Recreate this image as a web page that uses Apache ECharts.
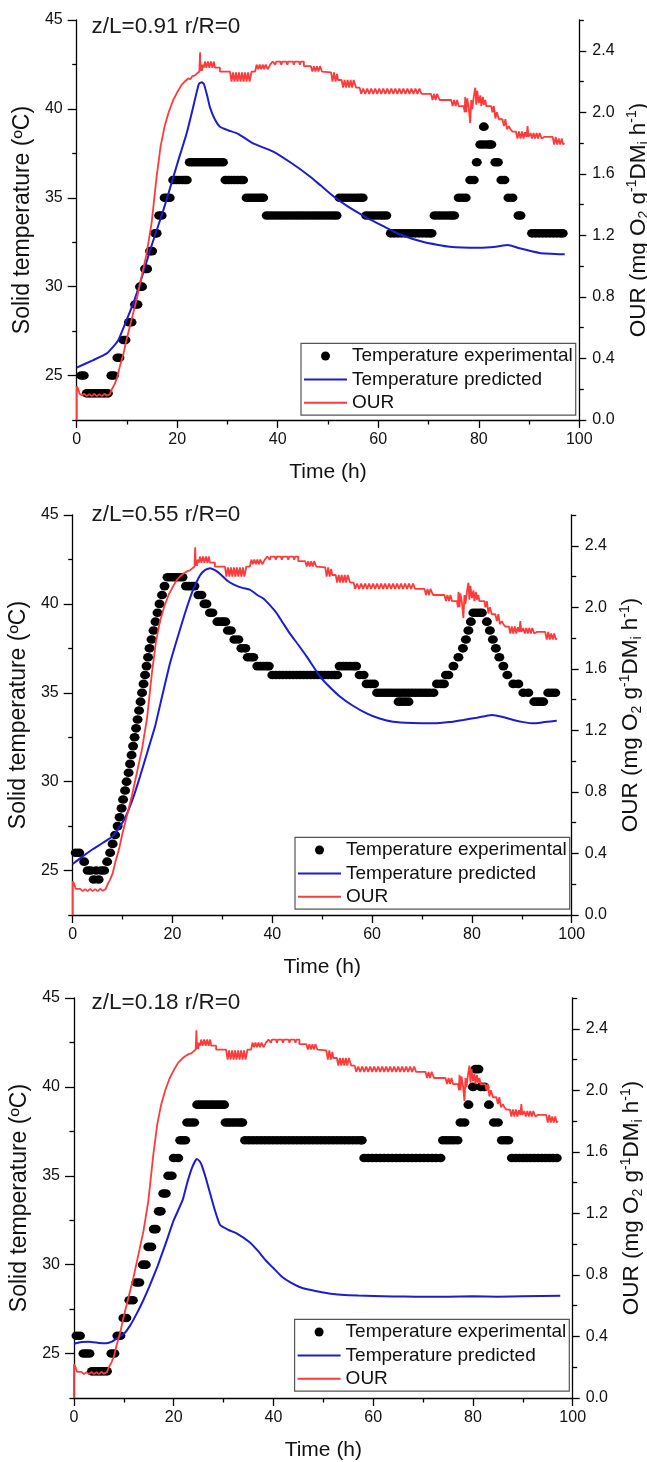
<!DOCTYPE html>
<html><head><meta charset="utf-8">
<script src="https://cdn.jsdelivr.net/npm/echarts@6/dist/echarts.min.js"></script>
<style>html,body{margin:0;padding:0;background:#fff}#c{width:647px;height:1462px}</style>
</head><body><div id="c"></div>
<script>
const titles = ['z/L=0.91 r/R=0', 'z/L=0.55 r/R=0', 'z/L=0.18 r/R=0'];
const seriesNames = ['Temperature experimental', 'Temperature predicted', 'OUR'];
const tempTicks = [25, 30, 35, 40, 45];
const tempMinorTicks = [22.5, 27.5, 32.5, 37.5, 42.5];
const ourTicks = [0, 0.4, 0.8, 1.2, 1.6, 2.0, 2.4];
const ourMinorTicks = [0.2, 0.6, 1.0, 1.4, 1.8, 2.2, 2.6];

// Temperature experimental, z/L=0.91
const exp1 = [
[0.9,25],[1.4,25],[2,24],[2.6,24],[3.2,24],[3.8,24],[4.4,24],[5,24],[5.6,24],[6.2,24],[6.9,25],[7.4,25],[8.1,26],[8.5,26],[9.3,27],[9.7,27],[10.4,28],[10.9,28],[11.6,29],[12.1,29],[12.6,30],[13,30],[13.6,31],[14,31],[14.6,32],[15,32],[15.6,33],[15.9,33],[16.4,34],[16.9,34],[17.5,35],[18,35],[18.5,35],
[19.2,36],[19.8,36],[20.4,36],[21,36],[21.5,36],[21.9,36],
[22.5,37],[23.1,37],[23.7,37],[24.3,37],[24.9,37],[25.5,37],[26.1,37],[26.7,37],[27.3,37],[27.9,37],[28.5,37],[29.1,37],
[29.6,36],[30.2,36],[30.8,36],[31.4,36],[32,36],[32.6,36],[33.1,36],
[33.8,35],[34.4,35],[35,35],[35.6,35],[36.2,35],[36.7,35],[37.1,35],
[37.8,34],[38.5,34],[39.2,34],[39.9,34],[40.6,34],[41.3,34],[42,34],[42.7,34],[43.4,34],[44.1,34],[44.8,34],[45.5,34],[46.2,34],[46.9,34],[47.6,34],[48.3,34],[49,34],[49.7,34],[50.4,34],[51.1,34],[51.7,34],
[52.3,35],[53,35],[53.7,35],[54.4,35],[55.1,35],[55.8,35],[56.4,35],[56.9,35],
[57.6,34],[58.3,34],[59,34],[59.7,34],[60.4,34],[61,34],[61.6,34],
[62.5,33],[63.2,33],[63.9,33],[64.6,33],[65.3,33],[66,33],[66.7,33],[67.4,33],[68.1,33],[68.8,33],[69.5,33],[70.1,33],[70.6,33],
[71.2,34],[71.9,34],[72.6,34],[73.3,34],[74,34],[74.6,34],[75.1,34],
[76,35],[76.7,35],[77.4,35],
[78.3,36],[79,36],
[79.6,37],
[80.3,38],[80.9,38],[81,39],[81.6,38],[82.2,38],[82.5,38],
[83.3,37],[83.8,37],
[84.5,36],[85.1,36],
[85.9,35],[86.7,35],
[87.9,34],[88.3,34],
[90.6,33],[91.3,33],[92,33],[92.7,33],[93.4,33],[94.1,33],[94.8,33],[95.5,33],[96.2,33],[96.7,33]
];
// Temperature experimental, z/L=0.55
const exp2 = [
[0.6,26],[1.3,26],[2.3,25.5],[3,25],[3.6,25],[4.2,24.5],[4.7,25],[5.2,24.5],[5.7,25],[6.3,25],[6.9,25.5],[7.5,26],[8,26.5],[8.5,27],[9,27.5],[9.4,28],[9.8,28.5],[10.1,29],[10.5,29.5],[10.8,30],[11.2,30.5],[11.5,31],[11.8,31.5],[12.1,32],[12.4,32.5],[12.7,33],[13,33.5],[13.3,34],[13.6,34.5],[13.9,35],[14.2,35.5],[14.5,36],[14.8,36.5],[15.1,37],[15.4,37.5],[15.8,38],[16.2,38.5],[16.6,39],[17,39.5],[17.4,40],[17.9,40.5],[18.4,41],
[19,41.5],[19.6,41.5],[20.2,41.5],[20.8,41.5],[21.4,41.5],[22,41.5],
[22.7,41],[23.3,41],[23.9,41],[24.4,41],[25.2,40.5],[25.8,40.5],[26.4,40],[26.8,40],[27.5,39.5],[28,39.5],
[29,39],[29.6,39],[30.1,39],[30.6,39],[31.1,38.5],[31.7,38.5],[32.4,38],[33.2,38],[33.8,37.5],[34.6,37.5],[35.1,37],[35.7,37],[36.2,37],
[37,36.5],[37.6,36.5],[38.2,36.5],[38.8,36.5],[39.3,36.5],
[40,36],[40.7,36],[41.4,36],[42.1,36],[42.8,36],[43.5,36],[44.2,36],[44.9,36],[45.6,36],[46.3,36],[47,36],[47.7,36],[48.4,36],[49.1,36],[49.8,36],[50.5,36],[51.2,36],[51.9,36],[52.5,36],[53,36],
[53.5,36.5],[54.2,36.5],[54.9,36.5],[55.6,36.5],[56.3,36.5],[56.8,36.5],
[57.5,36],[58.3,36],[58.9,35.5],[59.7,35.5],[60.4,35.5],
[61,35],[61.7,35],[62.4,35],[63.1,35],[63.8,35],[64.5,35],[65.2,35],[65.9,35],[66.6,35],[67.3,35],[68,35],[68.7,35],[69.4,35],[70.1,35],[70.8,35],[71.5,35],[72.3,35],
[65.3,34.5],[65.9,34.5],[66.6,34.5],[67.3,34.5],
[73,35.5],[73.8,35.5],[74.4,35.5],[74.8,36],[75.3,36],[76.3,36.5],[77.3,37],[78.2,37.5],[78.8,38],[79.3,38.5],[79.8,39],
[80.3,39.5],[80.9,39.5],[81.5,39.5],[82,39.5],
[83,39],[83.6,38.5],[84.2,38],[84.8,37.5],[85.5,37],[86.3,36.5],[87.1,36],[88.3,35.5],[89.3,35.5],[90.3,35],[91.3,35],
[92.5,34.5],[93.1,34.5],[93.7,34.5],[94.3,34.5],[95.3,35],[96,35],[96.7,35]
];
// Temperature experimental, z/L=0.18
const exp3 = [
[0.5,26],[1.2,26],[1.9,25],[2.5,25],[3.1,25],[3.6,24],[4.2,24],[4.8,24],[5.4,24],[6,24],[6.6,24],[7.5,25],[8.1,25],[8.7,26],[9.3,26],[9.9,27],[10.5,27],[11.1,28],[11.8,28],[12.5,29],[13.1,29],[13.8,30],[14.4,30],[14.9,31],[15.5,31],[16,32],[16.4,32],[17,33],[17.4,33],[17.9,34],[18.4,34],[18.9,35],[19.6,35],[20,36],[20.9,36],[21.3,37],[21.8,37],[22.3,37],[22.7,38],[23.4,38],[24.1,38],
[24.7,39],[25.3,39],[25.9,39],[26.5,39],[27.1,39],[27.7,39],[28.3,39],[28.9,39],[29.5,39],[30.1,39],
[30.4,38],[31,38],[31.6,38],[32.2,38],[32.8,38],[33.4,38],[33.75,38],
[34.3,37],[35.1,37],[35.9,37],[36.7,37],[37.5,37],[38.3,37],[39.1,37],[39.9,37],[40.7,37],[41.5,37],[42.3,37],[43.1,37],[43.9,37],[44.7,37],[45.5,37],[46.3,37],[47.1,37],[47.9,37],[48.7,37],[49.5,37],[50.3,37],[51.1,37],[51.9,37],[52.7,37],[53.5,37],[54.3,37],[55.1,37],[55.9,37],[56.7,37],[57.5,37],[57.7,37],
[58.2,36],[59,36],[59.8,36],[60.6,36],[61.4,36],[62.2,36],[63,36],[63.8,36],[64.6,36],[65.4,36],[66.2,36],[67,36],[67.8,36],[68.6,36],[69.4,36],[70.2,36],[71,36],[71.8,36],[72.6,36],[73.5,36],
[74,37],[74.7,37],[75.4,37],[76.1,37],[76.9,37],
[77.5,38],[78.3,38],[79.1,39],[80,40],[80.5,41],[81.1,41],[81.6,40],[82.3,40],[83.2,39],[84.2,38],[85,38],
[85.8,37],[86.5,37],[87.1,37],
[87.8,36],[88.55,36],[89.3,36],[90.05,36],[90.8,36],[91.55,36],[92.3,36],[93.05,36],[93.8,36],[94.55,36],[95.3,36],[96.05,36],[96.8,36]
];

// Temperature predicted
const pred1 = [
[0,25.45],[3.3,25.87],[6,26.25],[7.5,26.7],[8.3,27.0],[9.9,28.1],[11.25,29.06],[12.6,30.2],[13.9,31.4],[15,32.4],[16.9,34.0],[18,35.0],[20,36.9],[21.85,38.6],[23,39.9],[24.3,41.4],[24.9,41.5],[25.3,41.4],[26,40.7],[26.5,40.1],[27.5,39.4],[28.5,39.0],[30.1,38.8],[32.1,38.6],[35.1,38.06],[39.1,37.6],[43,36.9],[46.4,36.2],[48.5,35.7],[51,35.1],[54,34.5],[57.6,33.9],[61,33.4],[64.2,32.95],[69.2,32.5],[74.2,32.25],[80.1,32.19],[83.4,32.25],[85.8,32.35],[88.1,32.16],[92.1,31.9],[97.1,31.82]
];
const pred2 = [
[0,25.37],[2,25.8],[4,26.2],[6,26.55],[7.9,26.9],[9,27.3],[10.4,27.9],[12,29.0],[13.5,30.3],[15,31.7],[16.5,33.1],[18,34.9],[19.5,36.66],[21,38.1],[22.5,39.47],[24,40.7],[25.5,41.6],[26.5,41.9],[27.5,42.0],[28.5,41.9],[29.5,41.7],[31,41.3],[32.2,41.1],[34,40.9],[35.5,40.8],[37,40.5],[38.2,40.3],[39.6,39.9],[40.9,39.47],[42.2,38.9],[43.5,38.34],[45.2,37.7],[46.9,37.03],[49.6,35.9],[51.6,35.3],[53.6,34.78],[56,34.3],[58.9,33.84],[61.5,33.55],[64.2,33.37],[68,33.3],[72.3,33.28],[75.5,33.35],[78.3,33.47],[81,33.6],[84,33.75],[86,33.65],[88.3,33.47],[90.3,33.35],[92.3,33.28],[94.5,33.35],[97,33.43]
];
const pred3 = [
[0,25.55],[1.5,25.65],[3,25.66],[5,25.6],[6.5,25.58],[7.6,25.67],[8.8,25.9],[10.1,26.14],[11.3,26.6],[12.6,27.26],[13.9,28.0],[15.1,28.76],[16.8,29.95],[18.4,31.2],[20,32.5],[21.8,33.64],[22.6,34.5],[23.6,35.4],[24.6,35.94],[25.1,35.85],[25.6,35.6],[26.4,34.9],[27.3,34.0],[28.2,33.1],[29.3,32.23],[31,31.95],[32.6,31.76],[35.1,31.29],[36.8,30.8],[38.4,30.26],[40,29.8],[41.7,29.32],[43.4,29.0],[45.1,28.76],[47,28.6],[49.2,28.48],[51.5,28.37],[54.2,28.29],[57,28.26],[60,28.24],[64,28.21],[68.4,28.2],[75,28.2],[80,28.22],[85,28.2],[90,28.22],[97.5,28.25]
];

// OUR (same measured curve in the three panels)
const ourData = [
[0,0],[0,0.22],[0.3,0.2],[0.6,0.17],[1,0.16],[1.5,0.17],[2,0.155],[2.5,0.168],[3,0.155],[3.5,0.17],[4,0.155],[4.5,0.168],[5,0.155],[5.5,0.17],[6,0.158],[6.6,0.168],[7,0.2],[7.5,0.23],[8,0.27],[8.6,0.35],[9.3,0.43],[9.9,0.52],[10.9,0.65],[11.9,0.78],[12.9,0.93],[13.9,1.08],[14.9,1.28],[15.9,1.58],[16.7,1.78],[17.5,1.91],[18.3,2.0],[19.2,2.08],[20,2.13],[20.9,2.18],[21.5,2.2],[22.2,2.22],[22.6,2.215],[23,2.235],[23.5,2.24],[23.8,2.25],[24.4,2.265],[24.55,2.39],[24.65,2.27],[24.8,2.31],[24.9,2.27],[25.1,2.31],[25.3,2.29],
[25.5,2.33],[25.8,2.29],[26.1,2.33],[26.4,2.29],[26.7,2.33],[27,2.29],[27.3,2.33],[27.5,2.29],[28.5,2.29],[28.5,2.265],[30.5,2.265],
[30.8,2.2],[31.1,2.26],[31.4,2.2],[31.7,2.26],[32,2.2],[32.3,2.26],[32.6,2.2],[32.9,2.26],[33.2,2.2],[33.5,2.26],[33.8,2.2],[34.1,2.26],[34.4,2.2],[34.8,2.265],[35.5,2.265],
[35.8,2.31],[36.1,2.28],[36.4,2.31],[36.7,2.28],[37,2.31],[37.3,2.28],[37.6,2.31],[38,2.28],[38.5,2.31],
[39,2.33],[39.5,2.31],[39.7,2.33],[40.5,2.33],[40.7,2.31],[40.9,2.33],[41.7,2.33],[41.9,2.31],[42.1,2.33],[43,2.33],[43.2,2.31],[43.4,2.33],[44.2,2.33],[44.4,2.31],[44.6,2.33],[45.2,2.33],[45.2,2.3],[46.6,2.3],
[46.9,2.265],[47.2,2.3],[47.5,2.265],[47.8,2.3],[48.1,2.265],[48.4,2.3],[48.8,2.265],[50.6,2.26],
[50.9,2.2],[51.2,2.26],[51.5,2.2],[51.8,2.25],[52,2.21],[52.7,2.21],
[53,2.16],[53.3,2.21],[53.6,2.16],[53.9,2.21],[54.2,2.16],[54.5,2.21],[54.8,2.16],[55.1,2.21],[55.6,2.16],[56.3,2.16],
[56.6,2.12],[57,2.155],[57.4,2.12],[57.8,2.155],[58.2,2.12],[58.6,2.155],[59,2.12],[59.4,2.155],[59.8,2.12],[60.2,2.155],[60.6,2.12],[61,2.155],[61.4,2.12],[61.8,2.155],[62.2,2.12],[62.6,2.155],[63,2.12],[63.4,2.155],[63.8,2.12],[64.2,2.155],[64.6,2.12],[65,2.155],[65.4,2.12],[65.8,2.155],[66.2,2.12],[66.6,2.155],[67,2.12],[67.4,2.155],[67.8,2.12],[68.2,2.155],[68.6,2.12],[68.9,2.12],[70.5,2.12],
[70.8,2.08],[71.1,2.12],[71.4,2.08],[71.7,2.12],[72.2,2.08],[74.5,2.08],
[74.8,2.04],[75.1,2.08],[75.4,2.04],[75.7,2.08],[76,2.04],[77,2.04],
[77.2,2.0],[77.3,2.1],[77.5,2.0],[77.7,2.09],[78,2.03],[78.3,1.93],[78.5,2.08],[78.7,2.02],[79,2.1],[79.3,2.16],[79.5,2.05],[79.7,2.14],[80,2.06],[80.3,2.11],[80.5,2.04],[80.8,2.1],[81,2.05],[81.3,2.08],[81.5,2.04],[82.5,2.04],
[82.7,2.0],[83,2.04],[83.3,1.96],[83.6,2.0],[84,1.955],[84.7,1.955],
[85,1.91],[85.3,1.955],[85.6,1.89],[86,1.91],[86.3,1.89],[86.7,1.875],[87.4,1.875],
[87.7,1.83],[88,1.875],[88.3,1.83],[88.6,1.875],[88.9,1.83],[89.2,1.87],[89.5,1.84],[89.7,1.91],[89.9,1.84],
[90.3,1.865],[90.6,1.83],[90.9,1.865],[91.2,1.83],[91.5,1.865],[91.8,1.83],[92.1,1.865],[92.5,1.83],[93,1.84],[94.7,1.84],
[95,1.79],[95.3,1.84],[95.6,1.79],[95.9,1.83],[96.2,1.79],[96.5,1.83],[96.8,1.79],[97,1.8]
];

const expData = [exp1, exp2, exp3];
const predData = [pred1, pred2, pred3];

const FONT = "'Liberation Sans', Arial, Helvetica, sans-serif";
const INK = '#111';
const grids = [
  {left: 76.7, top: 20, width: 502.6, height: 400},
  {left: 72.7, top: 515, width: 499, height: 400},
  {left: 74, top: 998, width: 498.7, height: 400}
];
const titleTops = [15, 503.5, 991.5];
const legendPos = [{left: 301, top: 343.3}, {left: 295, top: 837.3}, {left: 294.6, top: 1319.3}];

const axisLineStyle = {color: '#000', width: 1.3};
const option = {
  animation: false,
  backgroundColor: '#fff',
  textStyle: {fontFamily: FONT},
  title: titles.map((t, i) => ({
    text: t, left: 91.5, top: titleTops[i], padding: 0,
    textStyle: {fontSize: 22.5, fontWeight: 'normal', color: '#1a1a1a', fontFamily: FONT, lineHeight: 23}
  })),
  legend: legendPos.map(p => ({
    left: p.left, top: p.top, orient: 'vertical', selectedMode: false,
    data: [
      {name: seriesNames[0]},
      {name: seriesNames[1], itemStyle: {opacity: 0}},
      {name: seriesNames[2], itemStyle: {opacity: 0}}
    ],
    itemWidth: 43, itemHeight: 9, itemGap: 4.4,
    padding: [3.2, 3, 2.9, 2],
    borderColor: '#555', borderWidth: 1.2, backgroundColor: '#fff',
    textStyle: {fontSize: 19, lineHeight: 19, color: INK, fontFamily: FONT}
  })),
  grid: grids.map(g => ({left: g.left, top: g.top, width: g.width, height: g.height,
    containLabel: false, outerBoundsMode: 'none'})),
  xAxis: grids.map((g, i) => ({
    type: 'value', gridIndex: i, min: 0, max: 100, interval: 20,
    name: 'Time (h)', nameLocation: 'middle', nameGap: 42,
    nameTextStyle: {fontSize: 21, color: INK, fontFamily: FONT, lineHeight: 21},
    axisLine: {show: true, onZero: false, lineStyle: axisLineStyle},
    axisTick: {show: true, length: 8, lineStyle: axisLineStyle},
    minorTick: {show: true, splitNumber: 2, length: 4.5, lineStyle: axisLineStyle},
    axisLabel: {fontSize: 16, color: INK, margin: 12, fontFamily: FONT},
    splitLine: {show: false}, minorSplitLine: {show: false}
  })),
  yAxis: [],
  series: []
};

grids.forEach((g, i) => {
  option.yAxis.push({
    type: 'value', gridIndex: i, position: 'left', min: 22.5, max: 45,
    name: 'Solid temperature (ºC)', nameLocation: 'middle', nameGap: 42,
    nameTextStyle: {fontSize: 23, lineHeight: 23, color: INK, fontFamily: FONT},
    axisLine: {show: true, onZero: false, lineStyle: axisLineStyle},
    axisTick: {show: true, length: 9, customValues: tempTicks, lineStyle: axisLineStyle},
    axisLabel: {fontSize: 16, color: INK, margin: 14, fontFamily: FONT, customValues: tempTicks},
    splitLine: {show: false}
  });
  option.yAxis.push({
    type: 'value', gridIndex: i, position: 'right', min: 0, max: 2.6,
    name: 'OUR (mg O{s|2} g{p|-1}DM{s|i} h{p|-1})', nameLocation: 'middle', nameGap: 44,
    nameTextStyle: {fontSize: 22.5, lineHeight: 26, color: INK, fontFamily: FONT,
      rich: {
        s: {fontSize: 14, lineHeight: 14, verticalAlign: 'bottom', color: INK, fontFamily: FONT},
        p: {fontSize: 14, lineHeight: 14, verticalAlign: 'top', color: INK, fontFamily: FONT}
      }},
    axisLine: {show: true, onZero: false, lineStyle: axisLineStyle},
    axisTick: {show: true, length: 7, customValues: ourTicks, lineStyle: axisLineStyle},
    axisLabel: {fontSize: 16, color: INK, margin: 13, fontFamily: FONT, customValues: ourTicks,
      formatter: v => Number(v).toFixed(1)},
    splitLine: {show: false}
  });
  option.yAxis.push({
    type: 'value', gridIndex: i, position: 'left', min: 22.5, max: 45,
    axisLine: {show: false}, axisLabel: {show: false}, splitLine: {show: false},
    axisTick: {show: true, length: 4.5, customValues: tempMinorTicks, lineStyle: axisLineStyle}
  });
  option.yAxis.push({
    type: 'value', gridIndex: i, position: 'right', min: 0, max: 2.6,
    axisLine: {show: false}, axisLabel: {show: false}, splitLine: {show: false},
    axisTick: {show: true, length: 4.5, customValues: ourMinorTicks, lineStyle: axisLineStyle}
  });

  option.series.push({
    type: 'scatter', name: seriesNames[0], xAxisIndex: i, yAxisIndex: 4 * i,
    data: expData[i], symbol: 'circle', symbolSize: [10, 8.6],
    itemStyle: {color: '#000', opacity: 1}, z: 2
  });
  option.series.push({
    type: 'line', name: seriesNames[1], xAxisIndex: i, yAxisIndex: 4 * i,
    data: predData[i], symbol: 'none', smooth: 0.15,
    lineStyle: {color: '#1c1cd2', width: 2}, itemStyle: {color: '#1c1cd2'}, z: 3
  });
  option.series.push({
    type: 'line', name: seriesNames[2], xAxisIndex: i, yAxisIndex: 4 * i + 1,
    data: ourData, symbol: 'none',
    lineStyle: {color: '#ff3a3a', width: 1.8}, itemStyle: {color: '#ff3a3a'}, z: 4
  });
});

const chart = echarts.init(document.getElementById('c'), null, {renderer: 'canvas'});
chart.setOption(option);
</script>
</body></html>
